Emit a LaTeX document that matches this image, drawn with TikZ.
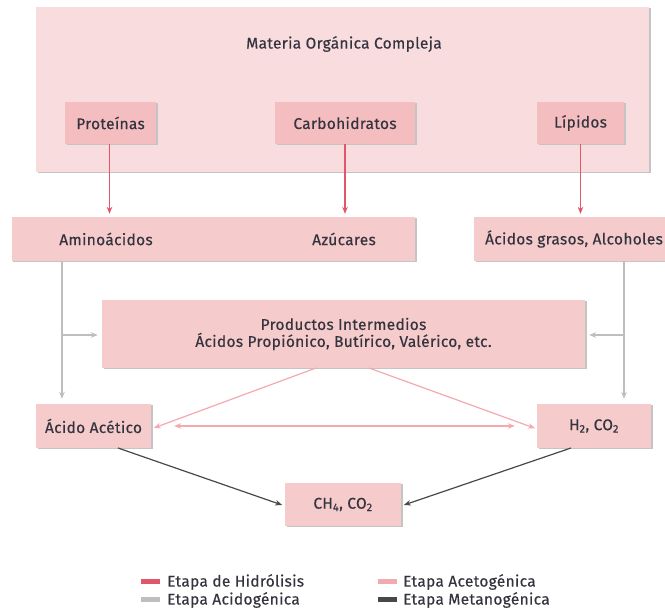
\documentclass[tikz,border=0pt]{standalone}
\usepackage{fontspec}
\setmainfont{Fira Sans}[LetterSpace=2, FakeBold=0.4]
\usetikzlibrary{arrows.meta,shadows,calc}
\definecolor{bigfill}{HTML}{F9DCDD}
\definecolor{topfill}{HTML}{F4BEC0}
\definecolor{boxfill}{HTML}{F6CBCC}
\definecolor{shadowc}{HTML}{C4C4C4}
\definecolor{hydro}{HTML}{E2566C}
\definecolor{acido}{HTML}{BEBEBE}
\definecolor{aceto}{HTML}{F2A9AF}
\definecolor{metan}{HTML}{484848}
\definecolor{txt}{HTML}{34343F}
\begin{document}
\begin{tikzpicture}[x=1pt,y=-1pt,
  every node/.style={font=\fontsize{15.5}{17}\selectfont, text=txt},
  box/.style={draw=none, inner sep=0pt,
    drop shadow={shadow xshift=1.5pt,shadow yshift=-1.5pt,fill=shadowc,opacity=1}},
  bigbox/.style={box, fill=bigfill},
  topbox/.style={box, fill=topfill},
  midbox/.style={box, fill=boxfill},
  tip/.style={-{Stealth[length=7pt,width=5.5pt]}},
  hyd/.style={tip, draw=hydro, line width=1.2pt},
  acid/.style={tip, draw=acido, line width=1.4pt},
  acet/.style={tip, draw=aceto, line width=1.2pt},
  acetd/.style={{Stealth[length=7pt,width=5.5pt]}-{Stealth[length=7pt,width=5.5pt]}, draw=aceto, line width=1.2pt},
  met/.style={tip, draw=metan, line width=1.2pt},
  swatch/.style={draw=none, inner sep=0pt, minimum width=19pt, minimum height=5pt},
  legtext/.style={anchor=west, inner sep=0pt}
]
\useasboundingbox (0,0) rectangle (665,612);

% boxes
\node[bigbox, minimum width=613pt, minimum height=165pt] (mo) at (342.5,89.5) {};
\node (mot) at (344,44) {Materia Orgánica Compleja};
\node[topbox, minimum width=91pt, minimum height=42pt] (prot) at (110.5,123) {Proteínas};
\node[topbox, minimum width=140pt, minimum height=42pt] (carb) at (345,123) {Carbohidratos};
\node[topbox, minimum width=87pt, minimum height=42pt] (lip) at (580.5,123) {Lípidos};

\node[midbox, minimum width=403.5pt, minimum height=44pt] (row1) at (213.25,239) {};
\node (amino) at (106,239) {Aminoácidos};
\node (azu) at (344,239) {Azúcares};
\node[midbox, minimum width=226pt, minimum height=44pt] (row2) at (587,239) {};
\node (grasos) at (574,239) {Ácidos grasos, Alcoholes};

\node[midbox, minimum width=483pt, minimum height=68pt, align=center] (prod) at (343.5,334)
  {Productos Intermedios\\Ácidos Propiónico, Butírico, Valérico, etc.};

\node[midbox, minimum width=115pt, minimum height=44pt] (aa) at (93.5,426) {Ácido Acético};
\node[midbox, minimum width=114pt, minimum height=44pt] (h2) at (594,426) {H\textsubscript{2}, CO\textsubscript{2}};
\node[midbox, minimum width=116pt, minimum height=43pt] (ch4) at (343,504.5) {CH\textsubscript{4}, CO\textsubscript{2}};

% hydrolysis
\draw[hyd, shorten >=3pt] ($(prot.south)+(-1,0)$) -- ($(prot.south |- row1.north)+(-1,0)$);
\draw[hyd, shorten >=3pt] (carb.south) -- (carb.south |- row1.north);
\draw[hyd, shorten >=3pt] (lip.south) -- (lip.south |- row2.north);

% acidogenic
\coordinate (gl) at (62,0);
\coordinate (gr) at (624,0);
\draw[acid, shorten >=5pt] (row1.south -| gl) -- (aa.north -| gl);
\draw[acid, shorten >=5pt] (row2.south -| gr) -- (h2.north -| gr);
\coordinate (jl) at (62,335);
\coordinate (jr) at (624,335);
\draw[acid, shorten >=4pt] (jl) -- (jl -| prod.west);
\draw[acid, shorten >=4pt] (jr) -- (jr -| prod.east);

% acetogenic
\coordinate (pl) at (316,368);
\coordinate (pr) at (369,368);
\coordinate (ael) at (151,429);
\coordinate (aer) at (537,429);
\draw[acet, shorten >=3pt] (pl) -- (ael);
\draw[acet, shorten >=2pt] (pr) -- (aer);
\draw[acetd] ($(aa.east)+(23,0)$) -- ($(h2.west)+(-22,0)$);

% methanogenic
\coordinate (ms1) at (118,448);
\coordinate (ms2) at (571,448);
\coordinate (me1) at (285,506);
\coordinate (me2) at (401,506);
\draw[met, shorten >=3pt] (ms1) -- (me1);
\draw[met, shorten >=3pt] (ms2) -- (me2);

% legend
\node[swatch, fill=hydro] (s1) at (150.5,582) {};
\node[legtext] (t1) at (167,582) {Etapa de Hidrólisis};
\node[swatch, fill=acido] (s2) at (150.5,600) {};
\node[legtext] (t2) at (167,600) {Etapa Acidogénica};
\node[swatch, fill=aceto] (s3) at (387,582) {};
\node[legtext] (t3) at (403,582) {Etapa Acetogénica};
\node[swatch, fill=metan] (s4) at (387,600) {};
\node[legtext] (t4) at (403,600) {Etapa Metanogénica};
\end{tikzpicture}
\end{document}
